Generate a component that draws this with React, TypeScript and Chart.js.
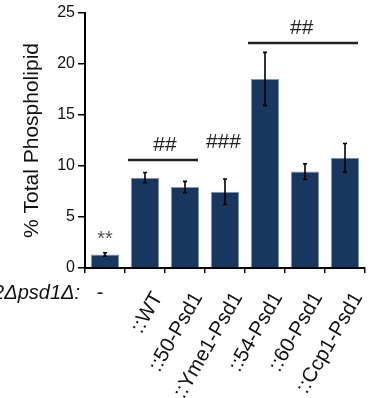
import { useEffect, useRef } from 'react';
import { Chart, registerables } from 'chart.js';

Chart.register(...registerables);

const categories = ['-', '::WT', '::50-Psd1', '::Yme1-Psd1', '::54-Psd1', '::60-Psd1', '::Ccp1-Psd1'];
const values = [1.32, 8.86, 7.94, 7.48, 18.54, 9.45, 10.8];
const errors = [0.17, 0.5, 0.55, 1.25, 2.6, 0.77, 1.4];
const yTicks = [0, 5, 10, 15, 20, 25];
const strainLabel = 'psd2Δpsd1Δ:';
const yTitle = '% Total Phospholipid';

// significance bars: [fromIndex, toIndex, yValue]
const sigLines: [number, number, number][] = [
  [1, 2, 10.6],
  [4, 6, 22.05],
];
// significance marks: [text, xIndex, yValue (baseline)]
const sigMarks: [string, number, number][] = [
  ['**', 0, 2.3],
  ['##', 1.5, 11.5],
  ['###', 2.96, 11.8],
  ['##', 4.92, 22.9],
];

const FONT = '"Liberation Sans", Arial, sans-serif';

export default function App() {
  const ref = useRef<HTMLCanvasElement | null>(null);

  useEffect(() => {
    const canvas = ref.current;
    if (!canvas) return;

    const overlay = {
      id: 'overlay',
      afterDatasetsDraw(chart: any) {
        const ctx = chart.ctx as CanvasRenderingContext2D;
        const xs = chart.scales.x;
        const ys = chart.scales.y;
        ctx.save();
        // error bars
        ctx.strokeStyle = '#000';
        ctx.lineWidth = 1.6;
        values.forEach((v, i) => {
          const x = xs.getPixelForValue(i);
          const t = ys.getPixelForValue(v + errors[i]);
          const b = ys.getPixelForValue(v - errors[i]);
          ctx.beginPath();
          ctx.moveTo(x, t);
          ctx.lineTo(x, b);
          ctx.moveTo(x - 2, t);
          ctx.lineTo(x + 2, t);
          ctx.moveTo(x - 2, b);
          ctx.lineTo(x + 2, b);
          ctx.stroke();
        });
        const cw = xs.getPixelForValue(1) - xs.getPixelForValue(0);
        // significance lines
        ctx.strokeStyle = '#222';
        ctx.lineWidth = 2.5;
        sigLines.forEach(([a, b, y]) => {
          const x1 = xs.getPixelForValue(a) - cw / 2 + 3;
          const x2 = xs.getPixelForValue(b) + cw / 2 - 7;
          const py = ys.getPixelForValue(y);
          ctx.beginPath();
          ctx.moveTo(x1, py);
          ctx.lineTo(x2, py);
          ctx.stroke();
        });
        // significance marks
        ctx.textAlign = 'center';
        ctx.textBaseline = 'alphabetic';
        sigMarks.forEach(([t, xi, y]) => {
          const isStar = t.includes('*');
          ctx.fillStyle = isStar ? '#555' : '#222';
          ctx.font = `${isStar ? 20 : 21}px ${FONT}`;
          ctx.fillText(t, xs.getPixelForValue(xi), ys.getPixelForValue(y));
        });
        // x labels
        ctx.fillStyle = '#111';
        const labelY = xs.top + 25;
        categories.forEach((c, i) => {
          const x = xs.getPixelForValue(i);
          if (i === 0) {
            ctx.font = `20px ${FONT}`;
            ctx.textAlign = 'center';
            ctx.textBaseline = 'middle';
            ctx.fillText(c, x - 5, labelY);
            return;
          }
          ctx.save();
          ctx.translate(x + 18, xs.top + 29);
          ctx.rotate(-Math.PI / 3);
          ctx.font = `20.5px ${FONT}`;
          ctx.textAlign = 'right';
          ctx.textBaseline = 'alphabetic';
          ctx.fillText(c, 0, 0);
          ctx.restore();
        });
        // strain label
        ctx.font = `italic 20px ${FONT}`;
        ctx.textAlign = 'right';
        ctx.textBaseline = 'middle';
        ctx.fillText(strainLabel, xs.left - 5, labelY);
        ctx.restore();
      },
    };

    const chart = new Chart(canvas, {
      type: 'bar',
      data: {
        labels: categories,
        datasets: [
          {
            data: values,
            backgroundColor: '#17375f',
            borderColor: '#8396b0',
            borderWidth: 1,
            barPercentage: 0.71,
            categoryPercentage: 1,
          },
        ],
      },
      options: {
        animation: false,
        responsive: false,
        devicePixelRatio: 1,
        layout: { padding: { top: 13, right: 5, left: 0, bottom: 0 } },
        plugins: { legend: { display: false }, tooltip: { enabled: false } },
        scales: {
          x: {
            offset: true,
            afterFit: (s: any) => {
              s.height = 130;
            },
            border: { display: true, color: '#000', width: 2 },
            grid: {
              offset: true,
              drawOnChartArea: false,
              drawTicks: true,
              tickLength: 5,
              color: '#000',
              lineWidth: 1.5,
            },
            ticks: { display: false },
          },
          y: {
            min: 0,
            max: 25,
            afterFit: (s: any) => {
              s.width = 85;
            },
            afterBuildTicks: (s: any) => {
              s.ticks = yTicks.map((v) => ({ value: v }));
            },
            border: { display: true, color: '#000', width: 2 },
            grid: {
              drawOnChartArea: false,
              drawTicks: true,
              tickLength: 7,
              color: '#000',
              lineWidth: 1.5,
            },
            ticks: {
              padding: 3,
              color: '#111',
              font: { family: FONT, size: 16 },
            },
            title: {
              display: true,
              text: yTitle,
              color: '#111',
              font: { family: FONT, size: 21 },
              padding: { top: 20, bottom: 0 },
            },
          },
        },
      },
      plugins: [overlay],
    });
    return () => chart.destroy();
  }, []);

  return (
    <div style={{ position: 'absolute', left: 0, top: 0, width: 370, height: 398 }}>
      <canvas ref={ref} width={370} height={398} style={{ width: 370, height: 398, display: 'block' }} />
    </div>
  );
}
